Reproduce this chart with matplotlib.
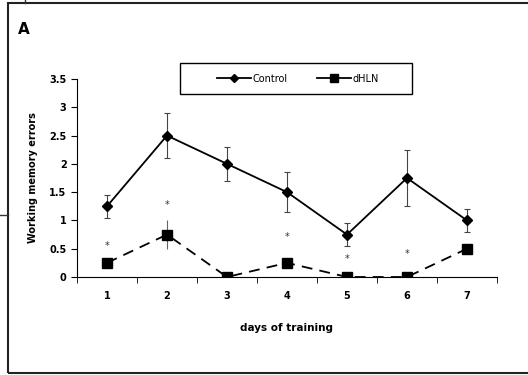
import numpy as np
import matplotlib.pyplot as plt
from matplotlib.patches import Rectangle
from matplotlib.lines import Line2D

days = [1, 2, 3, 4, 5, 6, 7]
control = [1.25, 2.5, 2.0, 1.5, 0.75, 1.75, 1.0]
control_err = [0.2, 0.4, 0.3, 0.35, 0.2, 0.5, 0.2]
dhln = [0.25, 0.75, 0.0, 0.25, 0.0, 0.0, 0.5]
dhln_err = [0.05, 0.25, 0.0, 0.05, 0.0, 0.0, 0.05]
star_days = [1, 2, 4, 5, 6]
star_y = [0.55, 1.28, 0.7, 0.32, 0.4]

fig = plt.figure(figsize=(5.28, 3.75), dpi=100)

# outer frame of the panel
fig.patches.append(Rectangle((8/528, 2/375), 1.0, 370/375, transform=fig.transFigure,
                             fill=False, edgecolor='#222222', lw=1.5))
fig.lines.append(Line2D([0, 8/528], [1-215/375, 1-215/375], transform=fig.transFigure,
                        color='#333333', lw=1))
fig.lines.append(Line2D([25/528, 25/528], [1, 1-3/375], transform=fig.transFigure,
                        color='#333333', lw=1))
fig.text(18/528, 1-30/375, 'A', fontsize=11, fontweight='bold', va='center')

ax = fig.add_axes([77/528, 1-277/375, 420/528, 198/375])

ax.errorbar(days, control, yerr=control_err, fmt='none', ecolor='#444444',
            elinewidth=0.8, capsize=2.5, capthick=0.8)
ax.errorbar(days, dhln, yerr=dhln_err, fmt='none', ecolor='#666666',
            elinewidth=0.8, capsize=0)
l1, = ax.plot(days, control, '-', color='black', lw=1.3, marker='D', ms=5, label='Control')
l2, = ax.plot(days, dhln, color='black', lw=1.3, ls=(0, (6, 4)), marker='s', ms=7, label='dHLN')
for d, s in zip(star_days, star_y):
    ax.text(d, s, '*', ha='center', va='center', fontsize=7, color='#333333')

ax.set_xlim(0.5, 7.5)
ax.set_ylim(0, 3.5)
ax.set_yticks(np.arange(0, 3.6, 0.5))
ax.set_yticklabels(['0', '0.5', '1', '1.5', '2', '2.5', '3', '3.5'])
ax.set_xticks(days)
ax.set_xticks(np.arange(0.5, 8, 1), minor=True)
ax.tick_params(axis='x', which='major', length=0, pad=10, labelsize=7)
ax.tick_params(axis='x', which='minor', length=4, direction='out')
ax.tick_params(axis='y', length=4, direction='out', labelsize=7)
for lab in ax.get_xticklabels() + ax.get_yticklabels():
    lab.set_fontweight('bold')
ax.spines['top'].set_visible(False)
ax.spines['right'].set_visible(False)
ax.set_xlabel('days of training', fontsize=7.5, fontweight='bold', labelpad=16)
ax.set_ylabel('Working memory errors', fontsize=7, fontweight='bold', labelpad=8)

# legend: box drawn separately, entries centred inside it
fig.patches.append(Rectangle((180/528, 1-94/375), 232/528, 31/375, transform=fig.transFigure,
                             fill=False, edgecolor='black', lw=1.0))
h1 = Line2D([], [], color='black', lw=1.3, marker='D', ms=4)
h2 = Line2D([], [], color='black', lw=1.3, marker='s', ms=6)
fig.legend(handles=[h1, h2], labels=['Control', 'dHLN'], ncol=2,
           loc='center', bbox_to_anchor=(298/528, 1-78.5/375), fontsize=7,
           frameon=False, handlelength=3.5, handletextpad=0.2, columnspacing=3,
           borderpad=0, borderaxespad=0)

fig.savefig('out.png', dpi=100)
